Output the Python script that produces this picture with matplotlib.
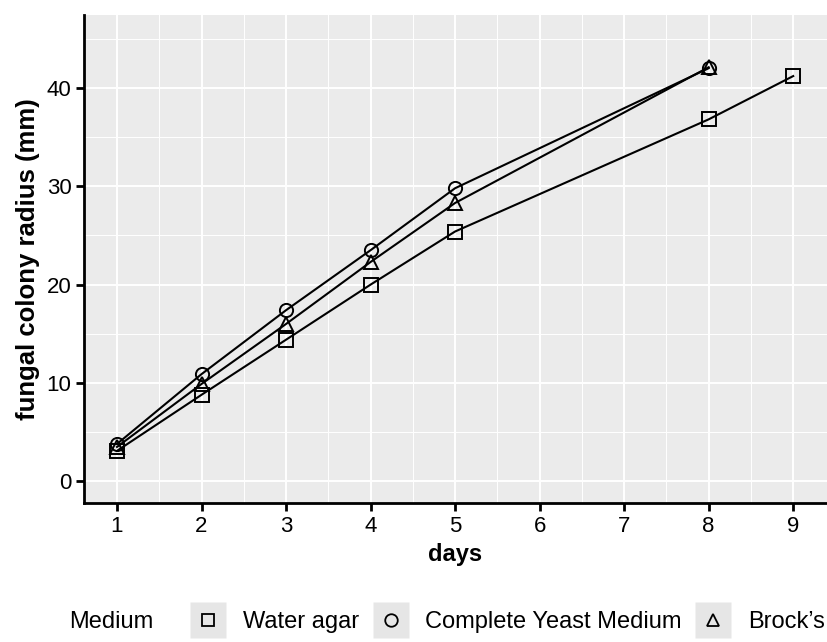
import matplotlib
matplotlib.use("Agg")
import matplotlib.pyplot as plt
from matplotlib.lines import Line2D
from matplotlib.legend_handler import HandlerTuple

plt.rcParams['font.family'] = ['Liberation Sans', 'DejaVu Sans']

days_water = [1, 2, 3, 4, 5, 8, 9]
radius_water = [3.1, 8.8, 14.4, 20.0, 25.4, 36.8, 41.2]
days_cym = [1, 2, 3, 4, 5, 8]
radius_cym = [3.8, 10.9, 17.4, 23.5, 29.8, 42.0]
days_brock = [1, 2, 3, 4, 5, 8]
radius_brock = [3.5, 9.9, 16.0, 22.3, 28.3, 42.1]

series = [
    ("Water agar", days_water, radius_water, "s"),
    ("Complete Yeast Medium", days_cym, radius_cym, "o"),
    ("Brock\u2019s", days_brock, radius_brock, "^"),
]
x_ticks = [1, 2, 3, 4, 5, 6, 7, 8, 9]
y_ticks = [0, 10, 20, 30, 40]

fig = plt.figure(figsize=(8.27, 6.42), dpi=100)
ax = fig.add_axes([0.1016, 0.2165, 0.8984, 0.760])
ax.set_facecolor("#EBEBEB")

for name, x, y, m in series:
    ax.plot(x, y, color="black", lw=1.5, marker=m, markersize=9.5,
            markerfacecolor="none", markeredgecolor="black", markeredgewidth=1.4,
            zorder=3)

ax.set_xlim(0.61, 9.4)
ax.set_ylim(-2.2, 47.4)
ax.set_xticks(x_ticks)
ax.set_yticks(y_ticks)
ax.set_xticks([t + 0.5 for t in x_ticks[:-1]], minor=True)
ax.set_yticks([5, 15, 25, 35, 45], minor=True)
ax.grid(which="major", color="white", lw=1.4)
ax.grid(which="minor", color="white", lw=0.7)
ax.set_axisbelow(True)

for s in ["top", "right"]:
    ax.spines[s].set_visible(False)
for s in ["left", "bottom"]:
    ax.spines[s].set_linewidth(2)
ax.tick_params(which="major", length=6, width=2, labelsize=16, pad=3)
ax.tick_params(which="minor", length=0)

ax.set_xlabel("days", fontsize=17, fontweight="bold", labelpad=5)
ax.set_ylabel("fungal colony radius (mm)", fontsize=18.5, fontweight="bold", labelpad=5)

handles = []
labels = []
for name, x, y, m in series:
    bg = Line2D([], [], ls="none", marker="s", markersize=26,
                markerfacecolor="#E6E6E6", markeredgecolor="none")
    fg = Line2D([], [], ls="none", marker=m, markersize=9,
                markerfacecolor="none", markeredgecolor="black", markeredgewidth=1.3)
    handles.append((bg, fg))
    labels.append(name)

fig.text(0.083, 0.031, "Medium", fontsize=17, va="center", ha="left")
fig.legend(handles, labels, ncol=3, loc="center left", numpoints=1,
           bbox_to_anchor=(0.2297, 0.031), frameon=False, fontsize=17,
           handler_map={tuple: HandlerTuple(ndivide=1)},
           handlelength=1.57, handletextpad=0.68, columnspacing=0.55,
           borderaxespad=0, borderpad=0)

fig.savefig("out.png", dpi=100)
